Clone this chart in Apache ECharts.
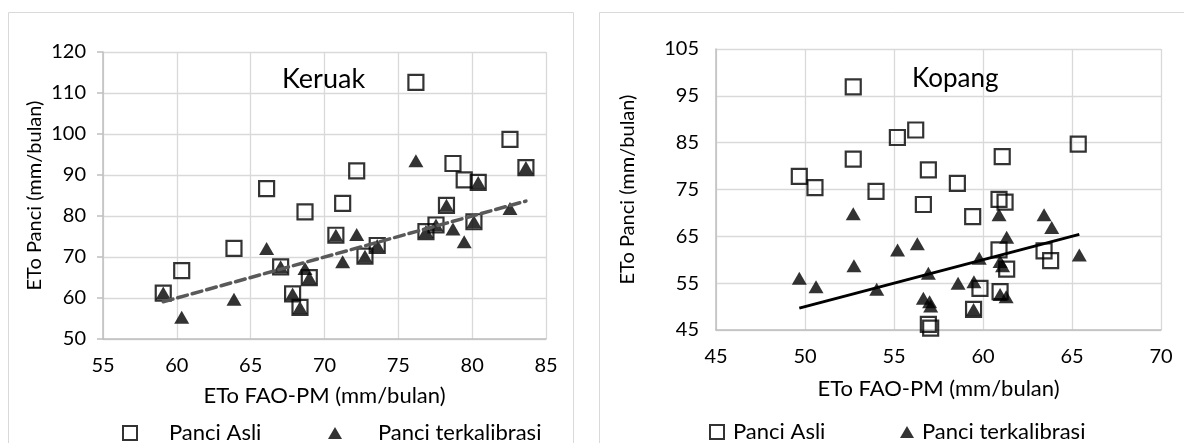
<!DOCTYPE html>
<html><head><meta charset="utf-8">
<script src="https://cdn.jsdelivr.net/npm/echarts@6/dist/echarts.min.js"></script>
<style>html,body{margin:0;padding:0;background:#fff}#c{width:1184px;height:443px}</style>
</head><body><div id="c"></div>
<script>
// Keruak: x = ETo FAO-PM, y = ETo Panci
const keruakX    = [59.08,60.33,63.87,66.08,67.03,67.84,68.34,68.68,68.97,70.77,71.23,72.18,72.74,73.57,76.19,76.87,77.55,78.26,78.70,79.46,80.12,80.41,82.56,83.64];
const keruakAsli = [61.2,66.7,72.1,86.7,67.6,61.0,57.7,81.0,64.95,75.3,83.1,91.0,70.2,72.8,112.6,76.2,77.8,82.6,92.8,88.8,78.6,88.2,98.7,91.8];
const keruakKal  = [61.2,55.3,59.7,72.1,67.6,61.0,57.7,67.2,64.95,75.3,68.85,75.5,70.2,72.8,93.5,76.2,77.8,82.6,76.8,73.7,78.6,88.2,81.85,91.8];
// Kopang
const kopangAsliX = [49.68,50.56,52.71,52.71,53.99,55.19,56.22,56.65,56.93,56.93,57.06,58.56,59.42,59.47,59.83,60.90,60.90,60.96,61.08,61.24,61.33,63.43,63.80,65.35];
const kopangAsliY = [77.8,75.4,96.9,81.5,74.6,86.1,87.7,71.8,79.2,46.2,45.4,76.3,69.2,49.4,53.9,72.9,62.1,53.2,82.0,72.3,58.0,61.9,59.8,84.7];
const kopangKalX  = [49.68,50.62,52.71,52.75,54.03,55.20,56.31,56.65,56.93,57.00,57.06,58.60,59.49,59.47,59.79,60.90,60.96,60.96,61.30,61.33,61.10,63.43,63.86,65.41];
const kopangKalY  = [56.05,54.25,69.8,58.74,53.7,62.1,63.4,51.8,57.1,51.05,50.1,55.0,55.3,49.4,60.3,69.6,59.6,52.6,52.1,64.8,58.7,69.6,66.9,61.0];
const seriesNames = ['Panci Asli','Panci terkalibrasi'];
const titles = ['Keruak','Kopang'];
const xName = 'ETo FAO-PM (mm/bulan)';
const yName = 'ETo Panci (mm/bulan)';

const zip = (a,b)=>a.map((v,i)=>[v,b[i]]);
const oneToOne = xs => { const lo=Math.min(...xs), hi=Math.max(...xs); return [[lo,lo],[hi,hi]]; };

const FONT = 'Lato';
const txt = (s)=>({fontFamily:FONT, fontSize:s, color:'#000'});
const grid = {color:'#d9d9d9', width:1.3};

function xAxis(gi, min, max, gap){
  return {gridIndex:gi, type:'value', min:min, max:max, interval:5,
    axisLine:{show:true, lineStyle:{color:'#bfbfbf', width:1.5}},
    axisTick:{show:false},
    splitLine:{show:true, lineStyle:grid},
    axisLabel:Object.assign({margin:17}, txt(20)),
    name:xName, nameLocation:'middle', nameGap:gap, nameTextStyle:txt(22)};
}
function yAxis(gi, min, max, ticks, gap){
  return {gridIndex:gi, type:'value', min:min, max:max, interval:10,
    axisLine:{show:true, lineStyle:{color:'#bfbfbf', width:1.5}},
    axisTick:{show:ticks, length:6, lineStyle:{color:'#bfbfbf', width:1.5}},
    splitLine:{show:true, lineStyle:grid},
    axisLabel:Object.assign({margin:17}, txt(20)),
    name:yName, nameLocation:'middle', nameGap:gap, nameTextStyle:txt(20)};
}
const sq = {symbol:'rect', symbolSize:15, itemStyle:{color:'rgba(0,0,0,0)', borderColor:'#000', borderWidth:2.2}};
const tri = {symbol:'triangle', symbolSize:[15,13], itemStyle:{color:'#000'}};

const option = {
  animation:false,
  backgroundColor:'#fff',
  graphic:[
    {type:'rect', shape:{x:8.5,y:12.5,width:565,height:520}, style:{fill:'none', stroke:'#d9d9d9', lineWidth:1}},
    {type:'rect', shape:{x:599.5,y:12.5,width:700,height:520}, style:{fill:'none', stroke:'#d9d9d9', lineWidth:1}}
  ],
  title:[
    {text:titles[0], left:282, top:66, padding:0, textStyle:Object.assign(txt(27),{fontWeight:'normal'})},
    {text:titles[1], left:912, top:66, padding:0, textStyle:Object.assign(txt(26),{fontWeight:'normal'})}
  ],
  grid:[
    {left:103, top:52, width:443, height:287},
    {left:716, top:49, width:445, height:281}
  ],
  xAxis:[xAxis(0,55,85,46), xAxis(1,45,70,48)],
  yAxis:[yAxis(0,50,120,true,58), yAxis(1,45,105,false,78)],
  legend:[
    {data:[seriesNames[0]], left:117, top:417, itemWidth:14, itemHeight:14, textStyle:Object.assign(txt(22),{padding:[0,0,0,27]})},
    {data:[seriesNames[1]], left:323, top:417, itemWidth:14, itemHeight:12, textStyle:Object.assign(txt(22),{padding:[0,0,0,31]})},
    {data:[seriesNames[0]], left:704, top:416, itemWidth:14, itemHeight:14, textStyle:Object.assign(txt(22),{padding:[0,0,0,4]})},
    {data:[seriesNames[1]], left:895, top:416, itemWidth:14, itemHeight:12, textStyle:Object.assign(txt(22),{padding:[0,0,0,3]})}
  ],
  series:[
    Object.assign({type:'scatter', name:seriesNames[0], xAxisIndex:0, yAxisIndex:0, data:zip(keruakX,keruakAsli), z:2}, sq),
    Object.assign({type:'scatter', name:seriesNames[1], xAxisIndex:0, yAxisIndex:0, data:zip(keruakX,keruakKal), z:3}, tri),
    {type:'line', xAxisIndex:0, yAxisIndex:0, data:oneToOne(keruakX), symbol:'none', z:4,
      lineStyle:{color:'#595959', width:3.5, type:[10,5], cap:'round'}},
    Object.assign({type:'scatter', name:seriesNames[0], xAxisIndex:1, yAxisIndex:1, data:zip(kopangAsliX,kopangAsliY), z:2}, sq),
    Object.assign({type:'scatter', name:seriesNames[1], xAxisIndex:1, yAxisIndex:1, data:zip(kopangKalX,kopangKalY), z:3}, tri),
    {type:'line', xAxisIndex:1, yAxisIndex:1, data:oneToOne(kopangKalX), symbol:'none', z:4,
      lineStyle:{color:'#000', width:3}}
  ]
};
const chart = echarts.init(document.getElementById('c'), null, {renderer:'canvas'});
chart.setOption(option);
</script></body></html>
